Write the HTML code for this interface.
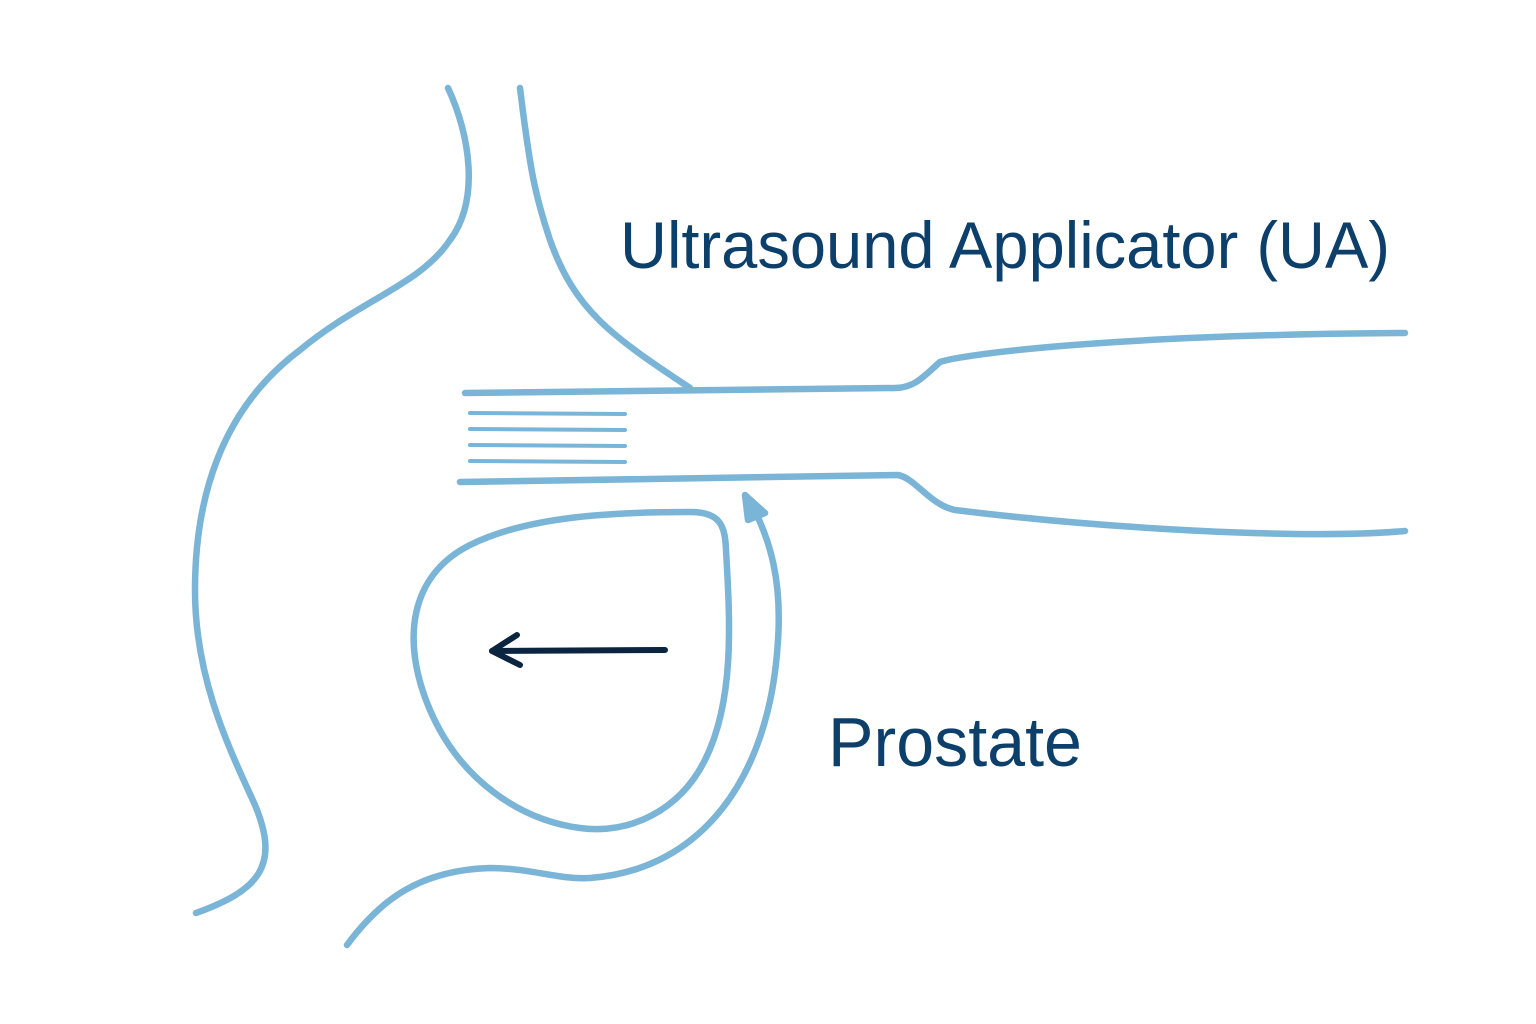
<!DOCTYPE html>
<html><head><meta charset="utf-8"><style>
html,body{margin:0;padding:0;background:#fff;}
svg{display:block}
</style></head><body>
<svg width="1536" height="1024" viewBox="0 0 1536 1024" xmlns="http://www.w3.org/2000/svg">
<g fill="none" stroke="#7ab4d6" stroke-width="6.5" stroke-linecap="round" stroke-linejoin="round">
<path d="M448,88 C470,135 480,200 450,240 C420,285 360,300 300,350 C220,410 195,500 195,590 C195,680 230,750 255,805 C280,865 260,890 196,913"/>
<path d="M520,88 C530,170 535,195 550,240 C575,310 610,335 690,388"/>
<path d="M465,393 L895,388 C915,388 925,375 940,362 C960,355 1100,335 1405,333"/>
<path d="M460,482 L898,475 C915,478 930,505 955,510 C1100,528 1300,540 1405,531"/>
<path d="M690,512 C720,512 725,525 726,550 C730,620 735,700 705,760 C680,810 630,835 580,828 C520,820 460,780 430,710 C400,640 410,575 470,545 C530,515 620,512 690,512 Z"/>
<path d="M347,945 C380,900 420,870 490,868 C530,868 560,880 590,878 C700,870 770,780 778,640 C782,580 770,540 752,505"/>
<path d="M745,495 L748,520 L765,513 Z" fill="#7ab4d6"/>
<g stroke-width="4">
<path d="M470,413 L625,414"/><path d="M470,429 L625,430"/><path d="M470,445 L625,446"/><path d="M470,461 L625,462"/>
</g>
</g>
<g fill="none" stroke="#0b2540" stroke-width="6" stroke-linecap="round" stroke-linejoin="round">
<path d="M665,650 L492,651"/>
<path d="M517,635 L492,651 L520,665"/>
</g>
<g fill="#0d3f6b" font-family="'Liberation Sans', sans-serif">
<text x="620" y="268" font-size="66" textLength="770" lengthAdjust="spacingAndGlyphs">Ultrasound Applicator (UA)</text>
<text x="828" y="766" font-size="70" textLength="254" lengthAdjust="spacingAndGlyphs">Prostate</text>
</g>
</svg>
</body></html>
